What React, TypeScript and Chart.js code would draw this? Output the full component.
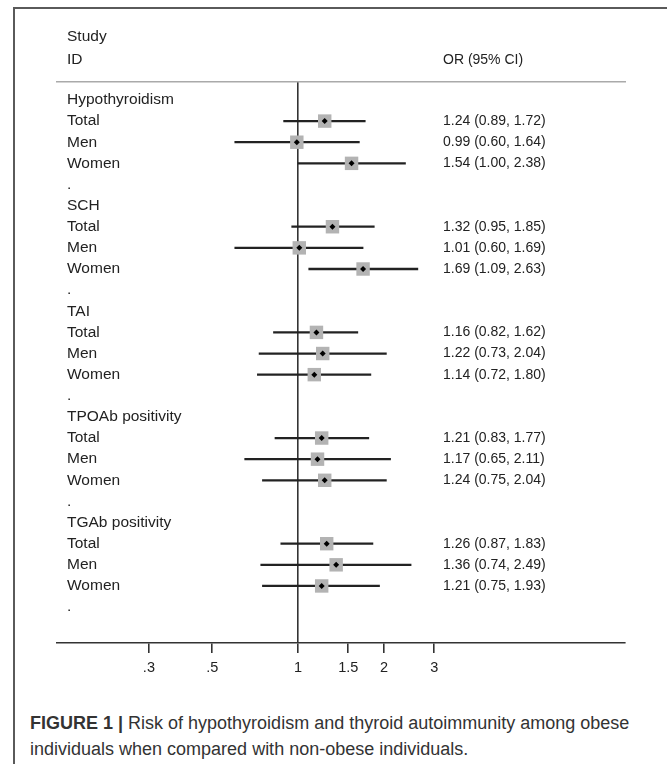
import React, { useEffect, useRef } from "react";
import { Chart, registerables } from "chart.js";

Chart.register(...registerables);

const rowLabels = [
  "Hypothyroidism", "Total", "Men", "Women", ".",
  "SCH", "Total", "Men", "Women", ".",
  "TAI", "Total", "Men", "Women", ".",
  "TPOAb positivity", "Total", "Men", "Women", ".",
  "TGAb positivity", "Total", "Men", "Women", ".",
];
const orValues: (number | null)[] = [
  null, 1.24, 0.99, 1.54, null,
  null, 1.32, 1.01, 1.69, null,
  null, 1.16, 1.22, 1.14, null,
  null, 1.21, 1.17, 1.24, null,
  null, 1.26, 1.36, 1.21, null,
];
const ciLower: (number | null)[] = [
  null, 0.89, 0.6, 1.0, null,
  null, 0.95, 0.6, 1.09, null,
  null, 0.82, 0.73, 0.72, null,
  null, 0.83, 0.65, 0.75, null,
  null, 0.87, 0.74, 0.75, null,
];
const ciUpper: (number | null)[] = [
  null, 1.72, 1.64, 2.38, null,
  null, 1.85, 1.69, 2.63, null,
  null, 1.62, 2.04, 1.8, null,
  null, 1.77, 2.11, 2.04, null,
  null, 1.83, 2.49, 1.93, null,
];
const xTickValues = [0.3, 0.5, 1, 1.5, 2, 3];
const xTickLabels = [".3", ".5", "1", "1.5", "2", "3"];

const FONT = '"Liberation Sans", Arial, sans-serif';

const fmt = (v: number) => v.toFixed(2);

export default function App() {
  const canvasRef = useRef<HTMLCanvasElement | null>(null);

  useEffect(() => {
    if (!canvasRef.current) return;
    const idx = rowLabels.map((_, i) => i).filter((i) => orValues[i] != null);

    const textPlugin = {
      id: "forestText",
      afterDraw(chart: any) {
        const { ctx, scales } = chart;
        const y = scales.y;
        ctx.save();
        ctx.fillStyle = "#222";
        ctx.textBaseline = "middle";
        ctx.textAlign = "left";
        ctx.font = `15.5px ${FONT}`;
        ctx.fillText("Study", 67, 37);
        ctx.fillText("ID", 67, 60);
        ctx.font = `14px ${FONT}`;
        ctx.fillText("OR (95% CI)", 443, 60);
        idx.forEach((i) => {
          const t = `${fmt(orValues[i] as number)} (${fmt(ciLower[i] as number)}, ${fmt(ciUpper[i] as number)})`;
          ctx.fillText(t, 443, y.getPixelForValue(i));
        });
        ctx.restore();
      },
    };

    const chart = new Chart(canvasRef.current, {
      type: "bar",
      data: {
        datasets: [
          {
            type: "scatter",
            data: idx.map((i) => ({ x: orValues[i], y: i })),
            pointStyle: "rectRot",
            pointRadius: 3,
            backgroundColor: "#000",
            borderWidth: 0,
            order: 0,
          } as any,
          {
            type: "scatter",
            data: idx.map((i) => ({ x: orValues[i], y: i })),
            pointStyle: "rect",
            pointRadius: 9.5,
            backgroundColor: "#b3b3b3",
            borderWidth: 0,
            order: 1,
          } as any,
          {
            type: "bar",
            data: idx.map((i) => ({ y: i, x: [ciLower[i], ciUpper[i]] })),
            backgroundColor: "#222",
            borderWidth: 0,
            barThickness: 1.6,
            order: 2,
          } as any,
        ],
      },
      options: {
        indexAxis: "y",
        animation: false,
        responsive: false,
        events: [],
        layout: { padding: { top: 82, left: 0, right: 42, bottom: 0 } },
        plugins: { legend: { display: false }, tooltip: { enabled: false } },
        scales: {
          x: {
            type: "logarithmic",
            position: "bottom",
            min: 1 / 7,
            max: 14,
            afterBuildTicks: (s: any) => {
              s.ticks = xTickValues.map((v) => ({ value: v }));
            },
            afterFit: (s: any) => {
              s.height = 57;
            },
            ticks: {
              autoSkip: false,
              maxRotation: 0,
              padding: 6,
              color: "#222",
              font: { family: FONT, size: 14.5 },
              callback: (_v: any, i: number) => xTickLabels[i],
            },
            grid: {
              color: (c: any) => (c.tick && c.tick.value === 1 ? "#333" : "rgba(0,0,0,0)"),
              lineWidth: 1.6,
              tickLength: 10,
              tickColor: "#333",
              tickWidth: 1.6,
            },
            border: { display: true, color: "#333", width: 1.6 },
          },
          xTop: {
            type: "linear",
            axis: "x",
            position: "top",
            afterFit: (s: any) => {
              s.height = 0;
            },
            ticks: { display: false },
            grid: { display: false },
            border: { display: true, color: "#aaa", width: 1.5 },
          },
          y: {
            type: "linear",
            offset: false,
            min: -0.85,
            max: 25.7,
            reverse: true,
            afterBuildTicks: (s: any) => {
              s.ticks = rowLabels.map((_, i) => ({ value: i }));
            },
            afterFit: (s: any) => {
              s.width = 57;
            },
            ticks: {
              mirror: true,
              padding: 10,
              autoSkip: false,
              color: "#222",
              font: { family: FONT, size: 15.5 },
              callback: (_v: any, i: number) => rowLabels[i],
            },
            grid: { display: false, offset: false },
            border: { display: false },
          },
        },
      } as any,
      plugins: [textPlugin],
    });
    return () => chart.destroy();
  }, []);

  return (
    <div>
      <div
        style={{
          position: "absolute",
          left: 13,
          top: 7,
          right: 0,
          bottom: 0,
          borderTop: "2px solid #5a5a5a",
          borderLeft: "2px solid #5a5a5a",
        }}
      />
      <canvas
        ref={canvasRef}
        width={667}
        height={700}
        style={{ position: "absolute", left: 0, top: 0, width: 667, height: 700 }}
      />
      <div
        style={{
          position: "absolute",
          left: 30,
          top: 710,
          fontFamily: FONT,
          fontSize: 18,
          lineHeight: "26px",
          color: "#333",
          whiteSpace: "nowrap",
        }}
      >
        <b>FIGURE 1 |</b> Risk of hypothyroidism and thyroid autoimmunity among obese
        <br />
        individuals when compared with non-obese individuals.
      </div>
    </div>
  );
}
